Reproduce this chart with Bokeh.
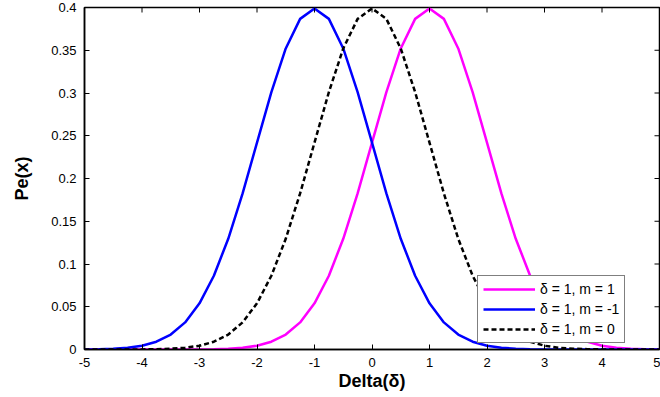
import math
from bokeh.plotting import figure
from bokeh.models import FixedTicker, Legend, LegendItem, ColumnDataSource
from bokeh.embed import file_html
from bokeh.resources import INLINE

x = [-5.0, -4.75, -4.5, -4.25, -4.0, -3.75, -3.5, -3.25, -3.0, -2.75, -2.5, -2.25, -2.0,
     -1.75, -1.5, -1.25, -1.0, -0.75, -0.5, -0.25, 0.0, 0.25, 0.5, 0.75, 1.0, 1.25, 1.5,
     1.75, 2.0, 2.25, 2.5, 2.75, 3.0, 3.25, 3.5, 3.75, 4.0, 4.25, 4.5, 4.75, 5.0]

pe_m1 = [0.0, 0.0, 0.0, 0.0, 0.0, 0.0, 0.0, 0.0, 0.0001, 0.0004, 0.0009, 0.0020, 0.0044,
         0.0091, 0.0175, 0.0317, 0.0540, 0.0863, 0.1295, 0.1826, 0.2420, 0.3011, 0.3521,
         0.3867, 0.3989, 0.3867, 0.3521, 0.3011, 0.2420, 0.1826, 0.1295, 0.0863, 0.0540,
         0.0317, 0.0175, 0.0091, 0.0044, 0.0020, 0.0009, 0.0004, 0.0001]

pe_mneg1 = [0.0001, 0.0004, 0.0009, 0.0020, 0.0044, 0.0091, 0.0175, 0.0317, 0.0540, 0.0863,
            0.1295, 0.1826, 0.2420, 0.3011, 0.3521, 0.3867, 0.3989, 0.3867, 0.3521, 0.3011,
            0.2420, 0.1826, 0.1295, 0.0863, 0.0540, 0.0317, 0.0175, 0.0091, 0.0044, 0.0020,
            0.0009, 0.0004, 0.0001, 0.0, 0.0, 0.0, 0.0, 0.0, 0.0, 0.0, 0.0]

pe_m0 = [0.0, 0.0, 0.0, 0.0, 0.0001, 0.0004, 0.0009, 0.0020, 0.0044, 0.0091, 0.0175, 0.0317,
         0.0540, 0.0863, 0.1295, 0.1826, 0.2420, 0.3011, 0.3521, 0.3867, 0.3989, 0.3867,
         0.3521, 0.3011, 0.2420, 0.1826, 0.1295, 0.0863, 0.0540, 0.0317, 0.0175, 0.0091,
         0.0044, 0.0020, 0.0009, 0.0004, 0.0001, 0.0, 0.0, 0.0, 0.0]

x_ticks = [-5, -4, -3, -2, -1, 0, 1, 2, 3, 4, 5]
x_tick_labels = ["-5", "-4", "-3", "-2", "-1", "0", "1", "2", "3", "4", "5"]
y_ticks = [0, 0.05, 0.1, 0.15, 0.2, 0.25, 0.3, 0.35, 0.4]
y_tick_labels = ["0", "0.05", "0.1", "0.15", "0.2", "0.25", "0.3", "0.35", "0.4"]
labels = ["δ = 1, m = 1", "δ = 1, m = -1", "δ = 1, m = 0"]

FONT = "Liberation Sans"
X_MIN, X_MAX = x_ticks[0], x_ticks[-1]
Y_MIN, Y_MAX = y_ticks[0], y_ticks[-1]

p = figure(width=660, height=397, output_backend="svg", toolbar_location=None,
           x_range=(X_MIN, X_MAX), y_range=(Y_MIN, Y_MAX),
           min_border_left=84, min_border_right=1, min_border_top=7, min_border_bottom=48,
           x_axis_label="Delta(δ)", y_axis_label="Pe(x)")
p.grid.visible = False
p.outline_line_color = "black"
p.outline_line_width = 1.5
p.background_fill_color = "white"
p.border_fill_color = "white"

src = ColumnDataSource(dict(x=x, m1=pe_m1, mneg1=pe_mneg1, m0=pe_m0))
r1 = p.line("x", "m1", source=src, line_color="#ff00ff", line_width=2.5)
r2 = p.line("x", "mneg1", source=src, line_color="#0000ff", line_width=2.5)
r3 = p.line("x", "m0", source=src, line_color="black", line_width=2.5, line_dash="5 3")

p.xaxis.ticker = FixedTicker(ticks=x_ticks)
p.yaxis.ticker = FixedTicker(ticks=y_ticks)
p.xaxis.major_label_overrides = {t: s for t, s in zip(x_ticks, x_tick_labels)}
p.yaxis.major_label_overrides = {t: s for t, s in zip(y_ticks, y_tick_labels)}

for ax in [p.xaxis[0], p.yaxis[0]]:
    ax.major_tick_in = 5
    ax.major_tick_out = 0
    ax.minor_tick_in = 0
    ax.minor_tick_out = 0
    ax.axis_line_color = "black"
    ax.axis_line_width = 1.5
    ax.major_tick_line_color = "black"
    ax.major_label_text_font = FONT
    ax.major_label_text_font_size = "13px"
    ax.major_label_text_color = "black"
    ax.axis_label_text_font = FONT
    ax.axis_label_text_font_size = "18px"
    ax.axis_label_text_font_style = "bold"
    ax.axis_label_text_color = "black"
p.xaxis.major_label_standoff = 8
p.xaxis.axis_label_standoff = 1
p.yaxis.major_label_standoff = 8
p.yaxis.axis_label_standoff = 16

# MATLAB-style box ticks on the top and right edges (inward)
p.ray(x=x_ticks, y=[Y_MAX] * len(x_ticks), length=5, length_units="screen",
      angle=-math.pi / 2, line_color="black", line_width=1)
p.ray(x=[X_MAX] * len(y_ticks), y=y_ticks, length=5, length_units="screen",
      angle=math.pi, line_color="black", line_width=1)

legend = Legend(items=[LegendItem(label=labels[0], renderers=[r1]),
                       LegendItem(label=labels[1], renderers=[r2]),
                       LegendItem(label=labels[2], renderers=[r3])],
                location=(393, 6))
legend.border_line_color = "black"
legend.border_line_width = 1.5
legend.background_fill_color = "white"
legend.background_fill_alpha = 1
legend.label_text_font = FONT
legend.label_text_font_size = "14px"
legend.label_text_color = "black"
legend.glyph_width = 52
legend.glyph_height = 14
legend.label_height = 14
legend.spacing = 4
legend.padding = 5
legend.margin = 0
p.add_layout(legend, "center")

open("out.html", "w").write(file_html(p, INLINE))
